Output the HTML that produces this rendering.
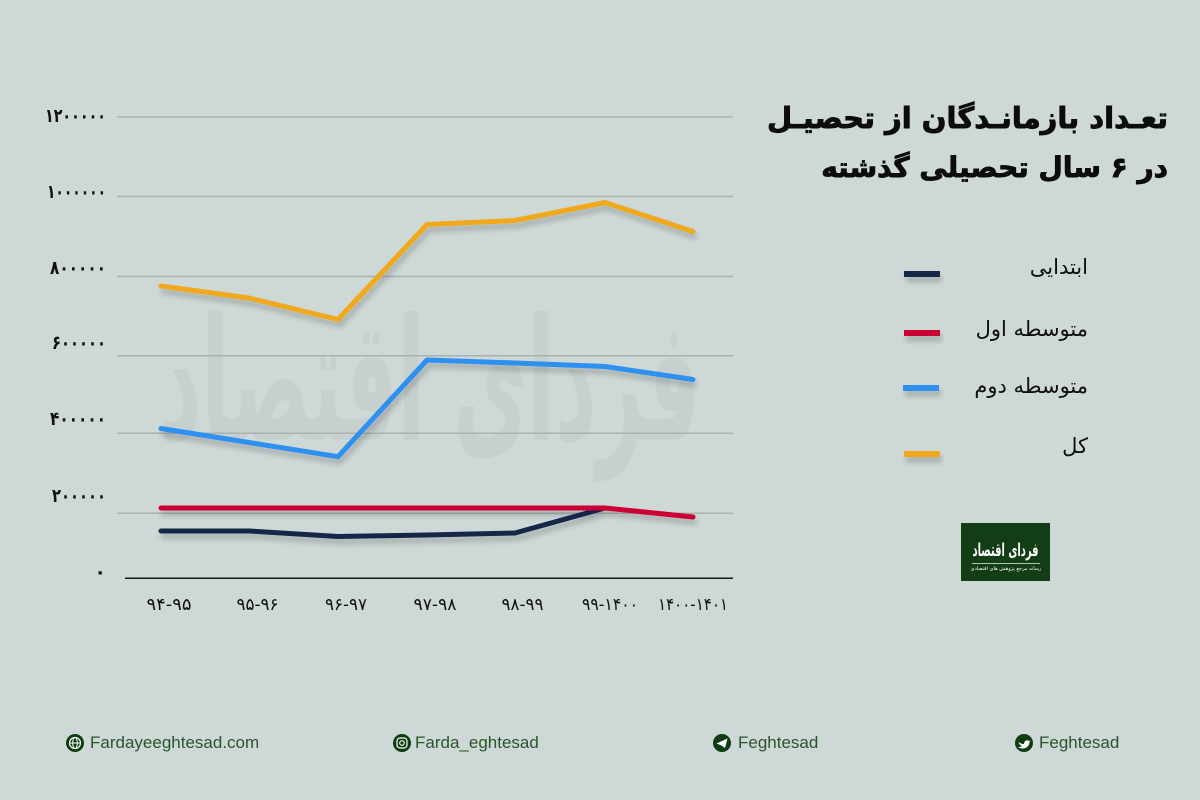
<!DOCTYPE html>
<html><head><meta charset="utf-8">
<style>
html,body{margin:0;padding:0}
body{width:1200px;height:800px;overflow:hidden;background:#ced8d6;position:relative;font-family:"DejaVu Sans",sans-serif}
svg{position:absolute;left:0;top:0}
.r{position:absolute;direction:rtl;text-align:right;white-space:nowrap;color:#111;font-family:"DejaVu Sans",sans-serif}
.title{right:32px;font-weight:bold;font-size:29px;line-height:50px;color:#0c0c0c;-webkit-text-stroke:0.9px #0c0c0c}
.leg{right:112px;font-size:21px;line-height:30px;color:#0f0f0f}
.ft{position:absolute;top:732px;font-family:"Liberation Sans",sans-serif;font-size:17px;line-height:22px;color:#2a552a}
</style></head>
<body>
<svg width="1200" height="800" viewBox="0 0 1200 800">
<defs>
<filter id="sh" x="-10%" y="-30%" width="120%" height="160%">
<feGaussianBlur in="SourceAlpha" stdDeviation="3"/>
<feOffset dx="2" dy="5" result="b"/>
<feComponentTransfer><feFuncA type="linear" slope="0.22"/></feComponentTransfer>
<feMerge><feMergeNode/><feMergeNode in="SourceGraphic"/></feMerge>
</filter>
</defs>
<!-- watermark -->
<text x="430" y="440" text-anchor="middle" font-family="DejaVu Sans" font-weight="bold" font-size="170" fill="#c2ccc9" opacity="0.6" textLength="540" lengthAdjust="spacingAndGlyphs" direction="rtl">فردای اقتصاد</text>
<!-- gridlines -->
<g stroke="#a9b2b0" stroke-width="1.5">
<line x1="117" y1="117" x2="733" y2="117"/>
<line x1="117" y1="196.5" x2="733" y2="196.5"/>
<line x1="117" y1="276.5" x2="733" y2="276.5"/>
<line x1="117" y1="355.7" x2="733" y2="355.7"/>
<line x1="117" y1="433.3" x2="733" y2="433.3"/>
<line x1="117" y1="513.3" x2="733" y2="513.3"/>
</g>
<line x1="125" y1="578.3" x2="733" y2="578.3" stroke="#151515" stroke-width="1.5"/>
<!-- y labels -->
<g font-family="DejaVu Sans" font-weight="bold" font-size="19" fill="#111" text-anchor="end">
<text x="106" y="122" textLength="61" lengthAdjust="spacingAndGlyphs">۱۲۰۰۰۰۰</text>
<text x="106" y="198" textLength="59" lengthAdjust="spacingAndGlyphs">۱۰۰۰۰۰۰</text>
<text x="106" y="274" textLength="56" lengthAdjust="spacingAndGlyphs">۸۰۰۰۰۰</text>
<text x="106" y="349" textLength="54" lengthAdjust="spacingAndGlyphs">۶۰۰۰۰۰</text>
<text x="106" y="425" textLength="56" lengthAdjust="spacingAndGlyphs">۴۰۰۰۰۰</text>
<text x="106" y="502" textLength="54" lengthAdjust="spacingAndGlyphs">۲۰۰۰۰۰</text>
<text x="106" y="578">۰</text>
</g>
<!-- x labels -->
<g font-family="DejaVu Sans" font-size="17" fill="#111" text-anchor="middle">
<text x="169" y="610" textLength="45" lengthAdjust="spacingAndGlyphs">۹۴-۹۵</text>
<text x="257.5" y="610" textLength="42" lengthAdjust="spacingAndGlyphs">۹۵-۹۶</text>
<text x="346" y="610" textLength="42" lengthAdjust="spacingAndGlyphs">۹۶-۹۷</text>
<text x="435" y="610" textLength="43" lengthAdjust="spacingAndGlyphs">۹۷-۹۸</text>
<text x="522.5" y="610" textLength="42" lengthAdjust="spacingAndGlyphs">۹۸-۹۹</text>
<text x="610" y="610" textLength="56" lengthAdjust="spacingAndGlyphs">۹۹-۱۴۰۰</text>
<text x="693" y="610" textLength="70" lengthAdjust="spacingAndGlyphs">۱۴۰۰-۱۴۰۱</text>
</g>
<!-- series -->
<g fill="none" stroke-width="5" stroke-linecap="round" stroke-linejoin="round" filter="url(#sh)">
<polyline stroke="#f0a81a" points="161,286 249,298 338,319.5 427,224.5 515,220.5 605,202.5 693,231.5"/>
<polyline stroke="#2e90f0" points="161,428.5 249,442.5 338,456.7 427,360 515,363 605,366.5 693,379.5"/>
<polyline stroke="#13284a" points="161,531 249,531 338,536.5 427,535 515,533 605,508"/>
<polyline stroke="#cc0033" points="161,508 605,508 693,517"/>
</g>
<!-- legend swatches -->
<g filter="url(#sh)">
<rect x="904" y="271" width="36" height="6" fill="#13284a"/>
<rect x="904" y="330" width="36" height="6" fill="#cc0033"/>
<rect x="903" y="385" width="36" height="6" fill="#2e90f0"/>
<rect x="904" y="451" width="36" height="6" fill="#f0a81a"/>
</g>
<!-- logo -->
<rect x="961" y="523" width="89" height="58" fill="#123d15"/>
<text x="1005.5" y="556" text-anchor="middle" font-family="DejaVu Sans" font-weight="bold" font-size="18" fill="#fff" textLength="66" lengthAdjust="spacingAndGlyphs" direction="rtl">فردای اقتصاد</text>
<line x1="972" y1="563.5" x2="1040" y2="563.5" stroke="#e8efe8" stroke-width="0.8"/>
<text x="1006" y="570" text-anchor="middle" font-family="DejaVu Sans" font-size="5" fill="#fff" direction="rtl">رسانه مرجع پژوهش های اقتصادی</text>
<!-- footer icons -->
<g>
<circle cx="75" cy="743" r="9" fill="#0e3d12"/>
<circle cx="75" cy="743" r="5.5" fill="none" stroke="#fff" stroke-width="1.2"/>
<ellipse cx="75" cy="743" rx="2.3" ry="5.5" fill="none" stroke="#fff" stroke-width="1"/>
<line x1="69.5" y1="743" x2="80.5" y2="743" stroke="#fff" stroke-width="1"/>
<circle cx="402" cy="743" r="9" fill="#0e3d12"/>
<rect x="397" y="738" width="10" height="10" rx="3" fill="none" stroke="#fff" stroke-width="1.2"/>
<circle cx="402" cy="743" r="2.3" fill="none" stroke="#fff" stroke-width="1.1"/>
<circle cx="722" cy="743" r="9" fill="#0e3d12"/>
<path d="M716.5 743.5 L727.5 738.5 L725 748 L721.5 745.5 Z" fill="#fff"/>
<circle cx="1024" cy="743" r="9" fill="#0e3d12"/>
<path d="M1018.5 741.5 C1020 743.5 1022 744 1024 744 C1024 741 1027 739.5 1029 741 L1030.5 740.5 L1029.5 742 C1029.5 746 1026 749 1021.5 748.5 C1020 748.3 1019 747.8 1018 747 C1020 747 1021 746.5 1022 745.7 C1020.5 745.5 1019.5 744.5 1019.2 743.6 Z" fill="#fff"/>
</g>
</svg>

<div class="r title" style="top:93px">تعـداد بازمانـدگان از تحصیـل</div>
<div class="r title" style="top:143px;font-size:28px">در ۶ سال تحصیلی گذشته</div>

<div class="r leg" style="top:252px">ابتدایی</div>
<div class="r leg" style="top:314px">متوسطه اول</div>
<div class="r leg" style="top:371px">متوسطه دوم</div>
<div class="r leg" style="top:431px">کل</div>

<div class="ft" style="left:90px">Fardayeeghtesad.com</div>
<div class="ft" style="left:415px">Farda_eghtesad</div>
<div class="ft" style="left:738px">Feghtesad</div>
<div class="ft" style="left:1039px">Feghtesad</div>
</body></html>
